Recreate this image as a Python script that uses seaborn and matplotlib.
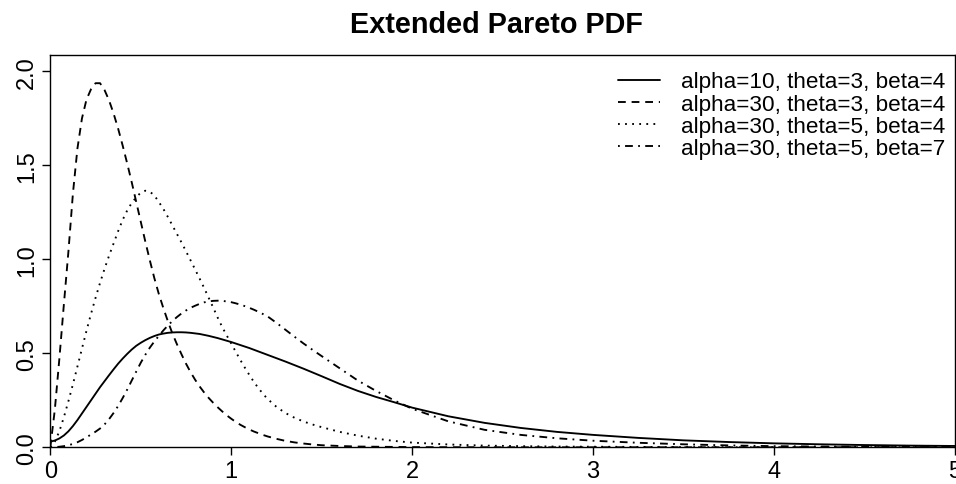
import matplotlib
matplotlib.use("Agg")
import matplotlib.pyplot as plt
import seaborn as sns
import pandas as pd

# ---- data ----
x_vals = [0, 0.025, 0.05, 0.075, 0.1, 0.125, 0.15, 0.175, 0.2, 0.225, 0.25, 0.275, 0.3,
          0.325, 0.35, 0.375, 0.4, 0.425, 0.45, 0.475, 0.5, 0.525, 0.55, 0.575, 0.6,
          0.625, 0.65, 0.675, 0.7, 0.725, 0.75, 0.775, 0.8, 0.825, 0.85, 0.875, 0.9,
          0.925, 0.95, 0.975, 1.0, 1.025, 1.05, 1.075, 1.1, 1.125, 1.15, 1.175, 1.2,
          1.25, 1.3, 1.35, 1.4, 1.45, 1.5,
          1.6, 1.7, 1.8, 1.9, 2.0,
          2.2, 2.4, 2.6, 2.8, 3.0,
          3.25, 3.5, 3.75, 4.0, 4.25, 4.5, 4.75, 5.0]

pdf_a10_t3_b4 = [0.03, 0.036, 0.047, 0.063, 0.085, 0.113, 0.145, 0.18, 0.215, 0.25, 0.285,
                 0.32, 0.352, 0.384, 0.415, 0.445, 0.472, 0.497, 0.52, 0.54, 0.556, 0.57,
                 0.582, 0.592, 0.6, 0.605, 0.609, 0.611, 0.612, 0.612, 0.611, 0.609, 0.606,
                 0.603, 0.598, 0.593, 0.587, 0.581, 0.574, 0.567, 0.56, 0.552, 0.544, 0.536,
                 0.528, 0.519, 0.51, 0.501, 0.492,
                 0.474, 0.456, 0.437, 0.418, 0.398, 0.378,
                 0.337, 0.300, 0.268, 0.240, 0.211,
                 0.165, 0.130, 0.103, 0.082, 0.066,
                 0.050, 0.037, 0.028, 0.021, 0.016, 0.012, 0.009, 0.007]

pdf_a30_t3_b4 = [0.0, 0.2, 0.47, 0.76, 1.04, 1.35, 1.59, 1.75, 1.85, 1.905, 1.937, 1.937,
                 1.9, 1.845, 1.775, 1.695, 1.605, 1.51, 1.41, 1.305, 1.2, 1.095, 0.995, 0.9,
                 0.815, 0.74, 0.67, 0.605, 0.548, 0.495, 0.445, 0.4, 0.36, 0.324, 0.292,
                 0.263, 0.237, 0.213, 0.191, 0.17, 0.152, 0.135, 0.12, 0.107, 0.095, 0.084,
                 0.075, 0.066, 0.058,
                 0.045, 0.034, 0.026, 0.02, 0.015, 0.011,
                 0.007, 0.004, 0.003, 0.002, 0.001,
                 0.0005, 0.0002, 0.0, 0.0, 0.0,
                 0.0, 0.0, 0.0, 0.0, 0.0, 0.0, 0.0, 0.0]

pdf_a30_t5_b4 = [0.0, 0.03, 0.085, 0.16, 0.245, 0.335, 0.43, 0.525, 0.62, 0.71, 0.795, 0.875,
                 0.95, 1.02, 1.085, 1.15, 1.21, 1.26, 1.30, 1.33, 1.355, 1.365, 1.36, 1.34,
                 1.305, 1.268, 1.225, 1.18, 1.135, 1.09, 1.043, 0.995, 0.947, 0.898, 0.848,
                 0.796, 0.744, 0.69, 0.64, 0.595, 0.552, 0.508, 0.465, 0.424, 0.385, 0.348,
                 0.315, 0.285, 0.258,
                 0.215, 0.182, 0.157, 0.137, 0.121, 0.107,
                 0.082, 0.062, 0.046, 0.034, 0.025,
                 0.015, 0.009, 0.006, 0.004, 0.003,
                 0.002, 0.001, 0.0005, 0.0, 0.0, 0.0, 0.0, 0.0]

pdf_a30_t5_b7 = [0.0, 0.001, 0.003, 0.006, 0.011, 0.018, 0.027, 0.039, 0.053, 0.068, 0.083,
                 0.1, 0.122, 0.15, 0.183, 0.22, 0.262, 0.307, 0.355, 0.403, 0.45, 0.492, 0.53,
                 0.563, 0.593, 0.622, 0.648, 0.672, 0.693, 0.712, 0.728, 0.742, 0.753, 0.763,
                 0.771, 0.776, 0.779, 0.78, 0.779, 0.776, 0.772, 0.766, 0.759, 0.751, 0.742,
                 0.732, 0.721, 0.709, 0.697,
                 0.662, 0.625, 0.588, 0.552, 0.518, 0.485,
                 0.42, 0.355, 0.30, 0.25, 0.205,
                 0.138, 0.093, 0.066, 0.048, 0.035,
                 0.024, 0.016, 0.010, 0.006, 0.004, 0.003, 0.002, 0.001]

labels = ["alpha=10, theta=3, beta=4", "alpha=30, theta=3, beta=4",
          "alpha=30, theta=5, beta=4", "alpha=30, theta=5, beta=7"]
x_ticks = [0, 1, 2, 3, 4, 5]
y_ticks = [0.0, 0.5, 1.0, 1.5, 2.0]
title = "Extended Pareto PDF"

# ---- styling ----
sns.set_style("ticks")
plt.rcParams["font.family"] = ["Liberation Sans", "DejaVu Sans"]
plt.rcParams["lines.scale_dashes"] = False
for key in ["text.color", "axes.edgecolor", "axes.labelcolor", "xtick.color", "ytick.color"]:
    plt.rcParams[key] = "black"

fig = plt.figure(figsize=(9.56, 4.85), dpi=100)
ax = fig.add_axes([50.3 / 956, (485 - 448.3) / 485, (955 - 50.3) / 956, (448.3 - 56) / 485])

styles = ["-", (0, (5.6, 4.2)), (0, (1.3, 3.8)), (0, (1.3, 3.8, 5.6, 3.8))]
series = [pdf_a10_t3_b4, pdf_a30_t3_b4, pdf_a30_t5_b4, pdf_a30_t5_b7]

for yv, lab, ls in zip(series, labels, styles):
    df = pd.DataFrame({"x": x_vals, "y": yv})
    sns.lineplot(data=df, x="x", y="y", ax=ax, color="black", linewidth=1.35,
                 linestyle=ls, label=lab, sort=False, errorbar=None)

ax.set_xlim(0, 5)
ax.set_ylim(0, 2.087)
ax.set_xticks(x_ticks)
ax.set_xticklabels([str(t) for t in x_ticks])
ax.set_yticks(y_ticks)
ax.set_yticklabels([f"{t:.1f}" for t in y_ticks])
ax.set_xlabel("")
ax.set_ylabel("")
ax.tick_params(axis="both", labelsize=17, length=6, width=1.0, color="black",
               labelcolor="black", direction="out")
ax.tick_params(axis="x", pad=3.5)
ax.tick_params(axis="y", pad=3)
for lbl in ax.get_yticklabels():
    lbl.set_rotation(90)
    lbl.set_va("center")
for sp in ax.spines.values():
    sp.set_visible(True)
    sp.set_color("black")
    sp.set_linewidth(1.0)

fig.text(496 / 956, 1 - 25 / 485, title, ha="center", va="center",
         fontsize=20.8, fontweight="bold", color="black")

leg = ax.legend(loc="upper right", bbox_to_anchor=(950 / 956, 1 - 68 / 485),
                bbox_transform=fig.transFigure, frameon=False, fontsize=16.2,
                handlelength=1.9, handletextpad=0.93, labelspacing=0.05,
                borderpad=0.2, borderaxespad=0)
for t in leg.get_texts():
    t.set_color("black")

fig.savefig("out.png", dpi=100, facecolor="white")
